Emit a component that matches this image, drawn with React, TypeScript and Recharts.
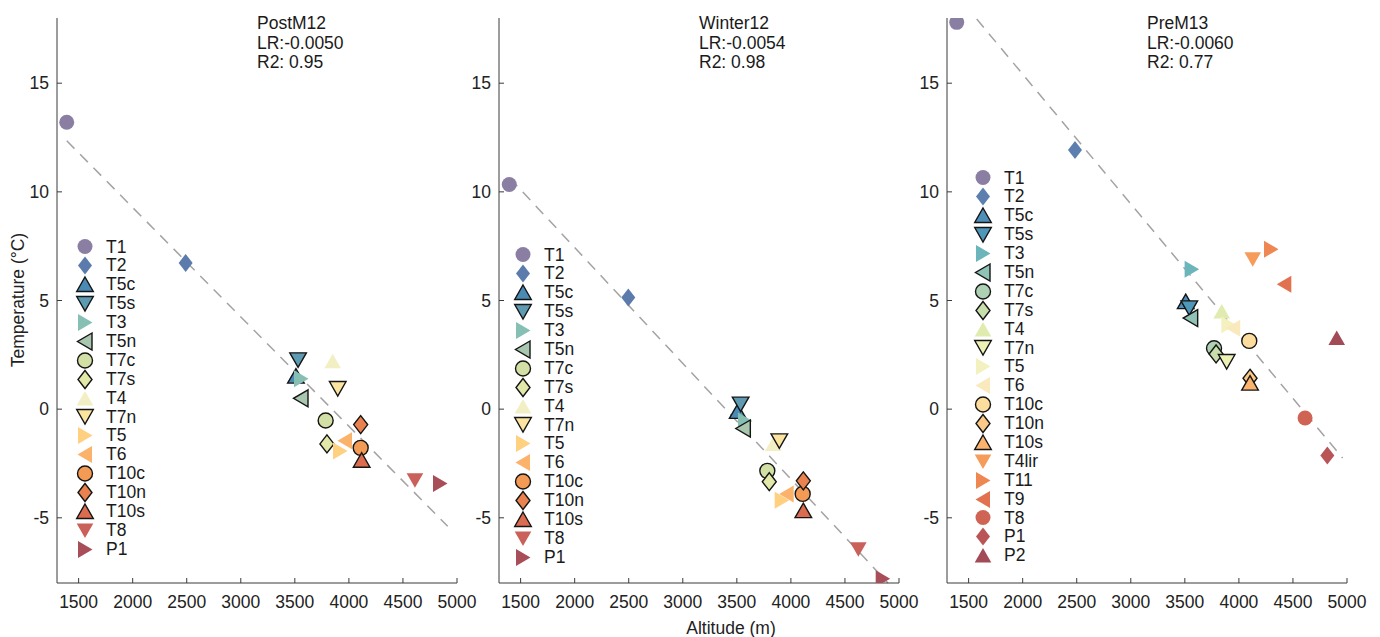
import React from "react";
import { ScatterChart, Scatter, XAxis, YAxis, ReferenceLine, Legend } from "recharts";

// axis ticks shared by the three panels
const altTicks = [1500, 2000, 2500, 3000, 3500, 4000, 4500, 5000];
const tempTicks = [-5, 0, 5, 10, 15];

// station names
const stations12 = ["T1", "T2", "T5c", "T5s", "T3", "T5n", "T7c", "T7s", "T4", "T7n", "T5", "T6", "T10c", "T10n", "T10s", "T8", "P1"];
const stations13 = ["T1", "T2", "T5c", "T5s", "T3", "T5n", "T7c", "T7s", "T4", "T7n", "T5", "T6", "T10c", "T10n", "T10s", "T4lir", "T11", "T9", "T8", "P1", "P2"];

// PostM12
const postM12Alt = [1390, 2490, 3510, 3530, 3557, 3557, 3785, 3797, 3850, 3897, 3918, 3964, 4109, 4109, 4118, 4611, 4843];
const postM12Temp = [13.2, 6.73, 1.52, 2.27, 1.4, 0.5, -0.52, -1.6, 2.2, 0.95, -1.93, -1.45, -1.78, -0.71, -2.35, -3.27, -3.42];
const postM12FitAlt = [1390, 4914];
const postM12FitTemp = [12.35, -5.39];

// Winter12
const winter12Alt = [1395, 2496, 3508, 3535, 3575, 3560, 3782, 3800, 3837, 3893, 3915, 3961, 4109, 4115, 4115, 4624, 4849];
const winter12Temp = [10.34, 5.14, -0.1, 0.23, -0.54, -0.89, -2.84, -3.34, -1.6, -1.46, -4.19, -3.9, -3.9, -3.3, -4.67, -6.45, -7.8];
const winter12FitAlt = [1400, 4898];
const winter12FitTemp = [10.63, -8.0];

// PreM13
const preM13Alt = [1390, 2484, 3508, 3541, 3563, 3554, 3770, 3789, 3841, 3887, 3902, 3948, 4096, 4103, 4103, 4128, 4297, 4420, 4612, 4818, 4905];
const preM13Temp = [17.8, 11.93, 4.95, 4.66, 6.44, 4.19, 2.8, 2.54, 4.49, 2.19, 3.88, 3.72, 3.14, 1.42, 1.2, 6.9, 7.36, 5.75, -0.41, -2.13, 3.27];
const preM13FitAlt = [1575, 4960];
const preM13FitTemp = [17.95, -2.25];

const FONT = "'Liberation Sans', Arial, Helvetica, sans-serif";

type Style = { shape: string; edge: boolean; color: string };

const markers12: Style[] = [
  { shape: "circle", edge: false, color: "#8a7fa3" },
  { shape: "diamond", edge: false, color: "#5b7bad" },
  { shape: "up", edge: true, color: "#4a8ab5" },
  { shape: "down", edge: true, color: "#5e9bb3" },
  { shape: "right", edge: false, color: "#86c0b5" },
  { shape: "left", edge: true, color: "#a8c7ae" },
  { shape: "circle", edge: true, color: "#d3e0a5" },
  { shape: "diamond", edge: true, color: "#e2e8a7" },
  { shape: "up", edge: false, color: "#f2efc4" },
  { shape: "down", edge: true, color: "#fbe3a0" },
  { shape: "right", edge: false, color: "#fed080" },
  { shape: "left", edge: false, color: "#fbb26a" },
  { shape: "circle", edge: true, color: "#f39a55" },
  { shape: "diamond", edge: true, color: "#e9824e" },
  { shape: "up", edge: true, color: "#db6c4f" },
  { shape: "down", edge: false, color: "#c9605a" },
  { shape: "right", edge: false, color: "#a84e58" },
];

const markers13: Style[] = [
  { shape: "circle", edge: false, color: "#8a7fa3" },
  { shape: "diamond", edge: false, color: "#5d7fb0" },
  { shape: "up", edge: true, color: "#4e8fba" },
  { shape: "down", edge: true, color: "#4f97b8" },
  { shape: "right", edge: false, color: "#6bb5bb" },
  { shape: "left", edge: true, color: "#8ec3b5" },
  { shape: "circle", edge: true, color: "#add1b2" },
  { shape: "diamond", edge: true, color: "#c9dfab" },
  { shape: "up", edge: false, color: "#e0ebaf" },
  { shape: "down", edge: true, color: "#eef1b4" },
  { shape: "right", edge: false, color: "#f4f1c0" },
  { shape: "left", edge: false, color: "#f9e9bd" },
  { shape: "circle", edge: true, color: "#fddd9d" },
  { shape: "diamond", edge: true, color: "#fdc987" },
  { shape: "up", edge: true, color: "#fcb36e" },
  { shape: "down", edge: false, color: "#f69c5b" },
  { shape: "right", edge: false, color: "#ee8752" },
  { shape: "left", edge: false, color: "#e2714f" },
  { shape: "circle", edge: false, color: "#d06454" },
  { shape: "diamond", edge: false, color: "#b95457" },
  { shape: "up", edge: false, color: "#a24a56" },
];

function Marker({ shape, edge, color, cx, cy }: Style & { cx: number; cy: number }) {
  const stroke = edge ? "#151515" : "none";
  const sw = edge ? 1.4 : 0;
  const poly = (pts: number[][]) => (
    <polygon points={pts.map((p) => `${cx + p[0]},${cy + p[1]}`).join(" ")} fill={color} stroke={stroke} strokeWidth={sw} strokeLinejoin="miter" />
  );
  switch (shape) {
    case "circle":
      return <circle cx={cx} cy={cy} r={7.5} fill={color} stroke={stroke} strokeWidth={sw} />;
    case "diamond":
      return poly([[0, -9], [7, 0], [0, 9], [-7, 0]]);
    case "up":
      return poly([[0, -7.5], [8.3, 7], [-8.3, 7]]);
    case "down":
      return poly([[-8.3, -7], [8.3, -7], [0, 7.5]]);
    case "right":
      return poly([[-7, -8.5], [7.5, 0], [-7, 8.5]]);
    default:
      return poly([[7, -8.5], [-7.5, 0], [7, 8.5]]);
  }
}

function LegendBox({ names, styles }: { names: string[]; styles: Style[] }) {
  return (
    <div style={{ fontFamily: FONT, fontSize: 17.5, color: "#1a1a1a" }}>
      {names.map((n, i) => (
        <div key={n} style={{ display: "flex", alignItems: "center", height: 18.9 }}>
          <svg width={22} height={19} style={{ overflow: "visible" }}>
            <Marker {...styles[i]} cx={11} cy={9.5} />
          </svg>
          <span style={{ marginLeft: 10, lineHeight: "18.9px" }}>{n}</span>
        </div>
      ))}
    </div>
  );
}

interface PanelProps {
  left: number;
  width: number;
  yAxisWidth: number;
  marginRight: number;
  names: string[];
  alts: number[];
  temps: number[];
  fitAlt: number[];
  fitTemp: number[];
  styles: Style[];
  legendLeft: number;
  legendTop: number;
  yLabel?: boolean;
  xLabel?: number;
}

function Panel(p: PanelProps) {
  const points = p.names.map((n, i) => ({ name: n, alt: p.alts[i], temp: p.temps[i] }));
  const tick = { fill: "#222", fontSize: 17.5, fontFamily: FONT };
  return (
    <div style={{ position: "absolute", left: p.left, top: 0 }}>
      <ScatterChart width={p.width} height={637} margin={{ top: 18, right: p.marginRight, bottom: 0, left: 0 }}>
        <XAxis
          type="number"
          dataKey="alt"
          domain={[1300, 5000]}
          ticks={altTicks}
          interval={0}
          allowDataOverflow
          height={54}
          tick={tick}
          tickSize={-5}
          tickMargin={18}
          stroke="#3a3a3a"
          label={
            p.xLabel !== undefined
              ? {
                  content: () => (
                    <text x={p.xLabel} y={634} textAnchor="middle" fontSize={17.5} fontFamily={FONT} fill="#222">
                      Altitude (m)
                    </text>
                  ),
                }
              : undefined
          }
        />
        <YAxis
          type="number"
          dataKey="temp"
          domain={[-8, 18]}
          ticks={tempTicks}
          interval={0}
          allowDataOverflow
          width={p.yAxisWidth}
          tick={tick}
          tickSize={-5}
          tickMargin={13}
          stroke="#3a3a3a"
          label={
            p.yLabel
              ? {
                  content: () => (
                    <text x={24} y={300} transform="rotate(-90 24 300)" textAnchor="middle" fontSize={17.5} fontFamily={FONT} fill="#222">
                      Temperature (°C)
                    </text>
                  ),
                }
              : undefined
          }
        />
        {points.map((pt, i) => (
          <Scatter
            key={pt.name}
            name={pt.name}
            data={[pt]}
            dataKey="temp"
            isAnimationActive={false}
            shape={(s: any) => <Marker {...p.styles[i]} cx={s.cx} cy={s.cy} />}
          />
        ))}
        <ReferenceLine
          segment={[
            { x: p.fitAlt[0], y: p.fitTemp[0] },
            { x: p.fitAlt[1], y: p.fitTemp[1] },
          ]}
          stroke="#a3a3a3"
          strokeWidth={1.5}
          strokeDasharray="11 8"
          ifOverflow="visible"
        />
        <Legend
          layout="vertical"
          align="center"
          verticalAlign="middle"
          wrapperStyle={{ left: p.legendLeft, top: p.legendTop, width: "auto" }}
          content={() => <LegendBox names={p.names} styles={p.styles} />}
        />
      </ScatterChart>
    </div>
  );
}

function Note({ left, lines }: { left: number; lines: string[] }) {
  return (
    <div style={{ position: "absolute", left, top: 14, fontFamily: FONT, fontSize: 17.5, lineHeight: "19.5px", color: "#1a1a1a", whiteSpace: "pre" }}>
      {lines.map((l) => (
        <div key={l}>{l}</div>
      ))}
    </div>
  );
}

export default function App() {
  return (
    <div style={{ position: "absolute", left: 0, top: 0, width: 1380, height: 637, background: "#fff", overflow: "hidden" }}>
      <Panel
        left={0}
        width={485}
        yAxisWidth={57}
        marginRight={28}
        names={stations12}
        alts={postM12Alt}
        temps={postM12Temp}
        fitAlt={postM12FitAlt}
        fitTemp={postM12FitTemp}
        styles={markers12}
        legendLeft={74}
        legendTop={237.5}
        yLabel
      />
      <Panel
        left={460}
        width={470}
        yAxisWidth={39}
        marginRight={31}
        names={stations12}
        alts={winter12Alt}
        temps={winter12Temp}
        fitAlt={winter12FitAlt}
        fitTemp={winter12FitTemp}
        styles={markers12}
        legendLeft={52}
        legendTop={245.5}
        xLabel={271}
      />
      <Panel
        left={905}
        width={475}
        yAxisWidth={42}
        marginRight={33}
        names={stations13}
        alts={preM13Alt}
        temps={preM13Temp}
        fitAlt={preM13FitAlt}
        fitTemp={preM13FitTemp}
        styles={markers13}
        legendLeft={67}
        legendTop={168.5}
      />
      <Note left={257} lines={["PostM12", "LR:-0.0050", "R2: 0.95"]} />
      <Note left={699} lines={["Winter12", "LR:-0.0054", "R2: 0.98"]} />
      <Note left={1147} lines={["PreM13", "LR:-0.0060", "R2: 0.77"]} />
    </div>
  );
}
